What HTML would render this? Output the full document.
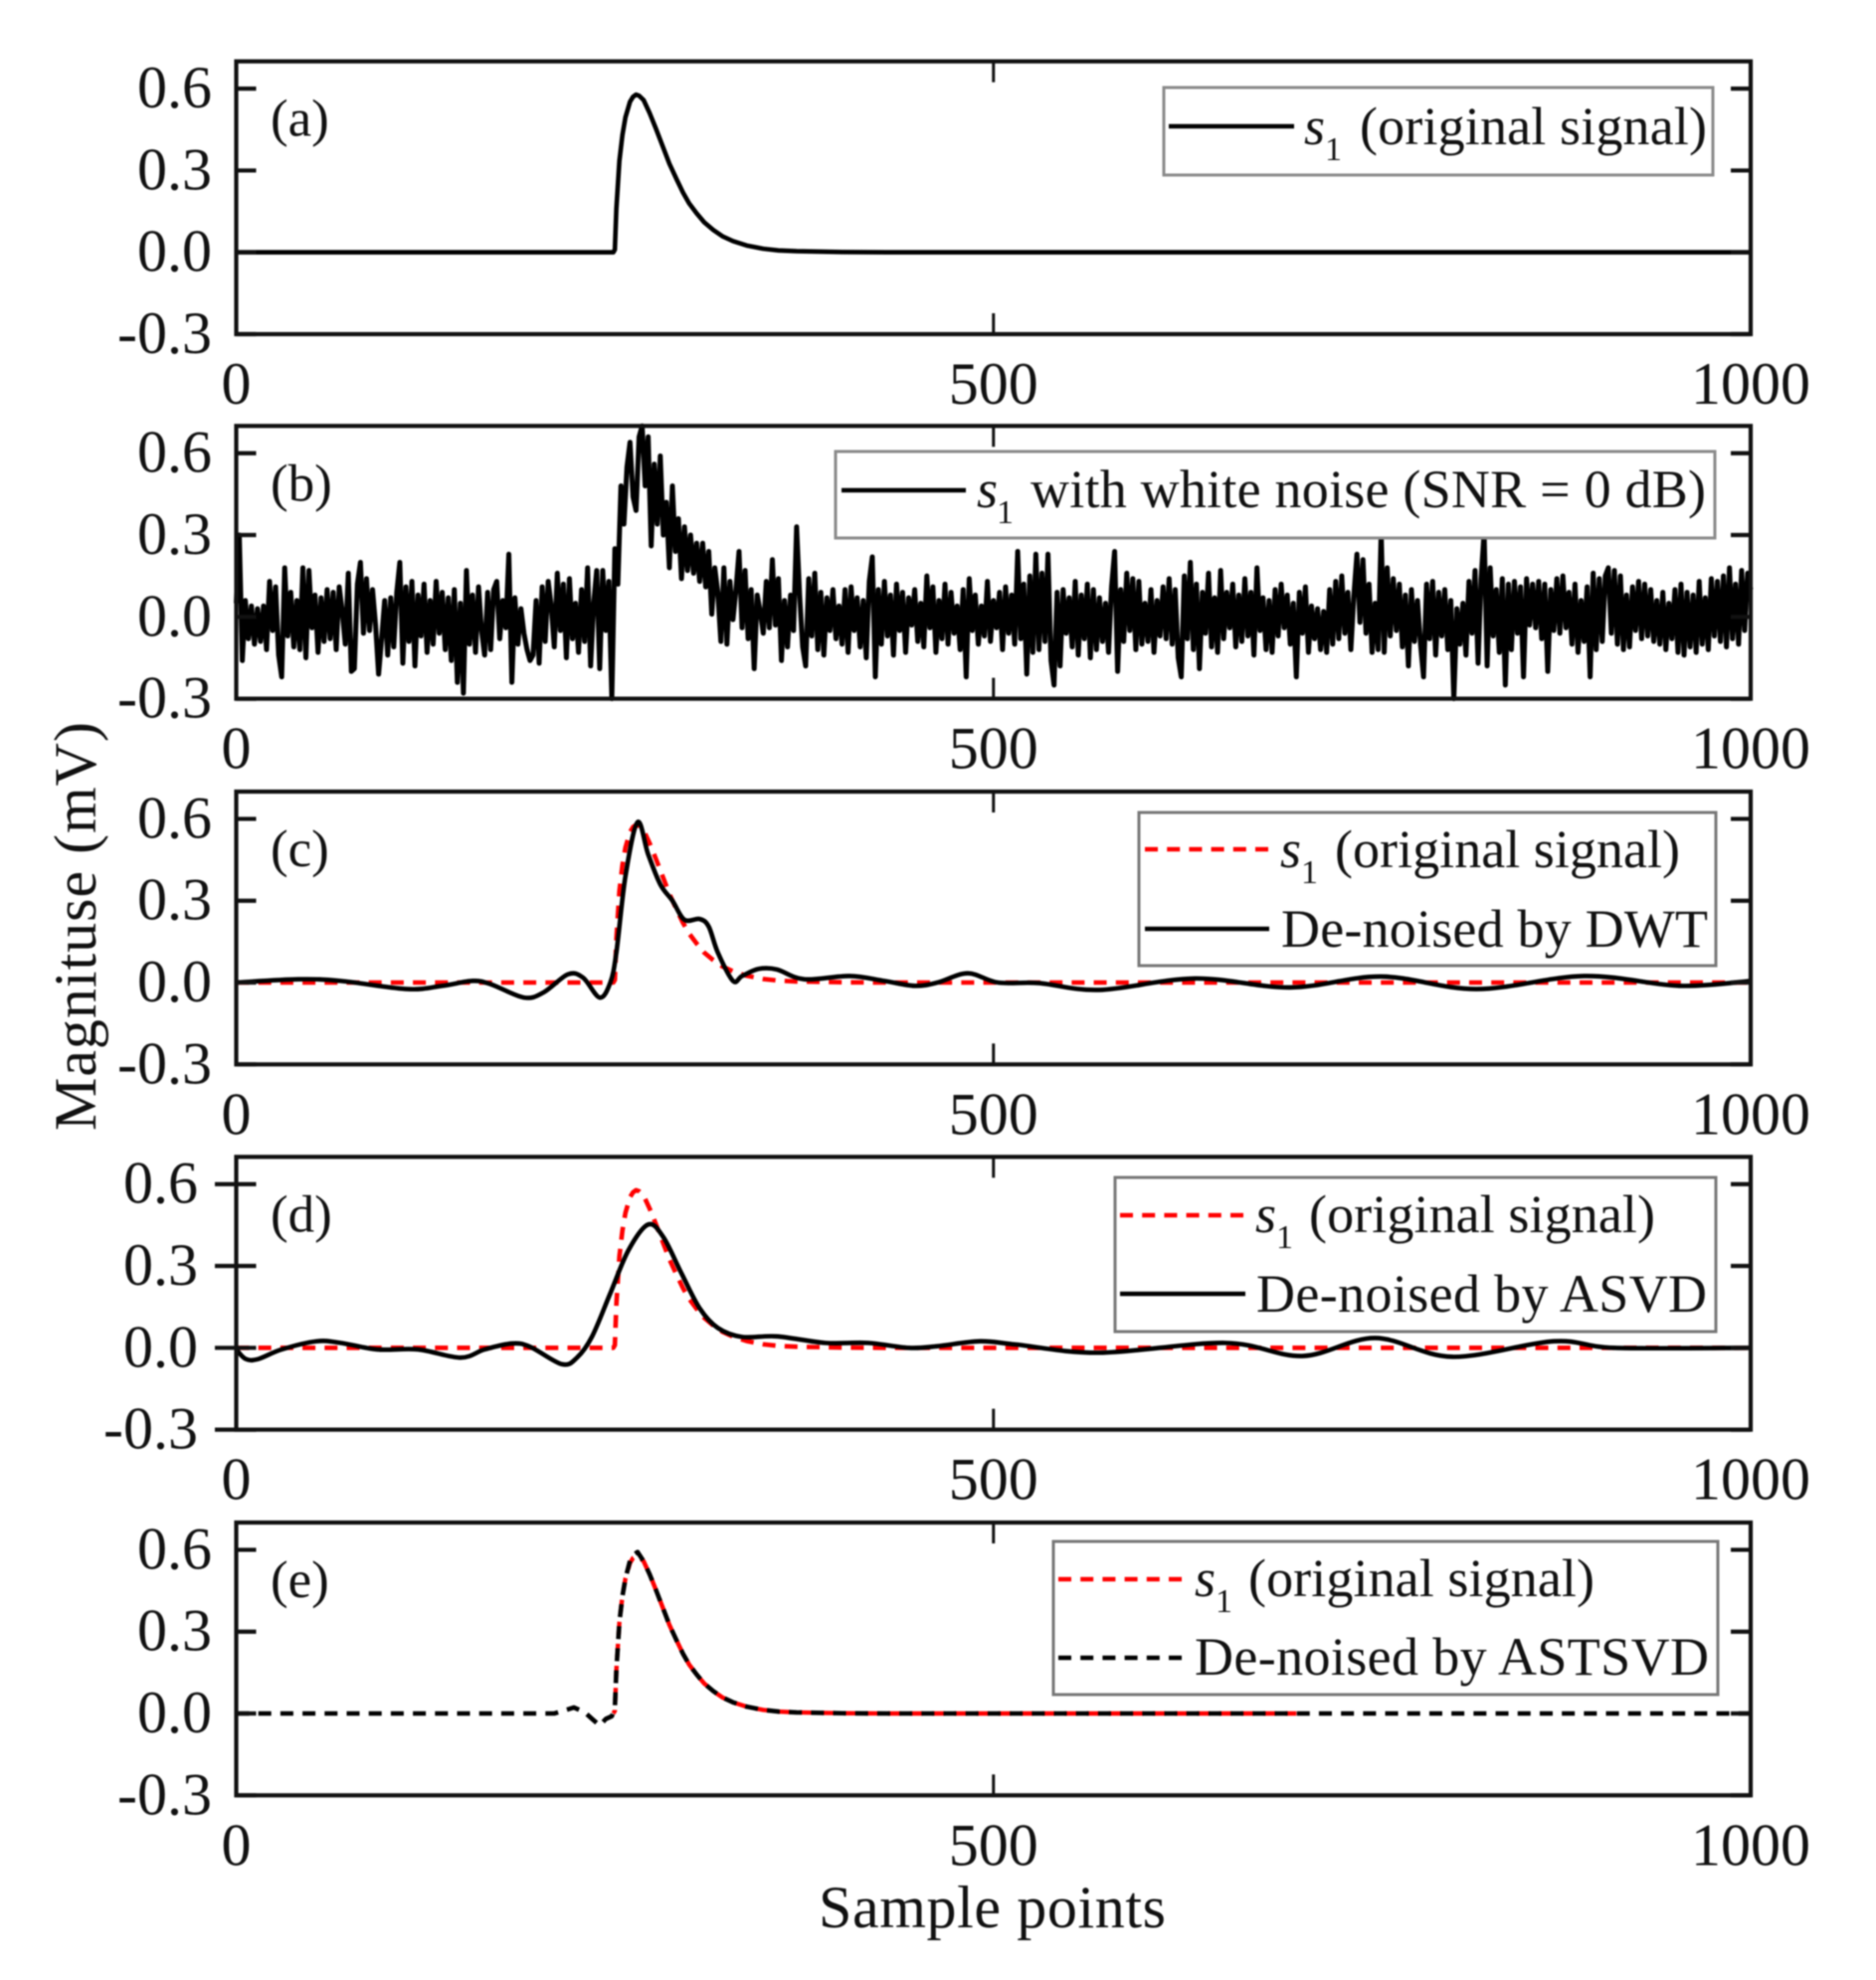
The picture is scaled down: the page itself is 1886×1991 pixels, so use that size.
<!DOCTYPE html>
<html lang="en">
<head>
<meta charset="utf-8">
<title>Signal de-noising comparison</title>
<style>
html,body{margin:0;padding:0;background:#fff;}
svg{display:block;filter:blur(0.8px);}
text{font-family:"Liberation Serif",serif;fill:#111;}
.lg{font-size:54px;}
.sub{font-size:34px;}
.ital{font-style:italic;}
.tag{font-size:53px;}
.tick{font-size:60px;}
.ttl{font-size:60px;}
</style>
</head>
<body>
<svg id="figure" xmlns="http://www.w3.org/2000/svg" width="1886" height="1991" viewBox="0 0 1886 1991">
  <g id="plots"></g>

  <g id="legend-a">
    <rect x="1170" y="88" width="552" height="88" fill="#fff" stroke="#8a8a8a" stroke-width="3"/>
    <line x1="1175" x2="1301" y1="127" y2="127" stroke="#000" stroke-width="4.6"/>
    <text class="lg ital" x="1311" y="145">s</text>
    <text class="sub" x="1332" y="161">1</text>
    <text class="lg" x="1367" y="145" textLength="349">(original signal)</text>
  </g>

  <g id="legend-b">
    <rect x="840" y="454" width="884" height="87" fill="#fff" stroke="#8a8a8a" stroke-width="3"/>
    <line x1="846" x2="971" y1="493" y2="493" stroke="#000" stroke-width="4.6"/>
    <text class="lg ital" x="982" y="510">s</text>
    <text class="sub" x="1002" y="526">1</text>
    <text class="lg" x="1036" y="510" textLength="679">with white noise (SNR = 0 dB)</text>
  </g>

  <g id="legend-c">
    <rect x="1145" y="817" width="580" height="154" fill="#fff" stroke="#777" stroke-width="3"/>
    <line x1="1151" x2="1276" y1="854" y2="854" stroke="#f00" stroke-width="4.6" stroke-dasharray="13 9.2"/>
    <text class="lg ital" x="1287" y="872">s</text>
    <text class="sub" x="1308" y="888">1</text>
    <text class="lg" x="1342" y="872" textLength="347">(original signal)</text>
    <line x1="1151" x2="1276" y1="934" y2="934" stroke="#000" stroke-width="4.6"/>
    <text class="lg" x="1288" y="952" textLength="429">De-noised by DWT</text>
  </g>

  <g id="legend-d">
    <rect x="1121" y="1184" width="604" height="155" fill="#fff" stroke="#777" stroke-width="3"/>
    <line x1="1126" x2="1252" y1="1222" y2="1222" stroke="#f00" stroke-width="4.6" stroke-dasharray="13 9.2"/>
    <text class="lg ital" x="1262" y="1239">s</text>
    <text class="sub" x="1283" y="1255">1</text>
    <text class="lg" x="1316" y="1239" textLength="348">(original signal)</text>
    <line x1="1126" x2="1252" y1="1301" y2="1301" stroke="#000" stroke-width="4.6"/>
    <text class="lg" x="1263" y="1319" textLength="453">De-noised by ASVD</text>
  </g>

  <g id="legend-e">
    <rect x="1059" y="1550" width="668" height="154" fill="#fff" stroke="#777" stroke-width="3"/>
    <line x1="1064" x2="1191" y1="1588" y2="1588" stroke="#f00" stroke-width="4.6" stroke-dasharray="13 9.2"/>
    <text class="lg ital" x="1201" y="1605">s</text>
    <text class="sub" x="1222" y="1621">1</text>
    <text class="lg" x="1255" y="1605" textLength="348">(original signal)</text>
    <line x1="1064" x2="1191" y1="1667" y2="1667" stroke="#000" stroke-width="4.6" stroke-dasharray="13 9.2"/>
    <text class="lg" x="1201" y="1684" textLength="517">De-noised by ASTSVD</text>
  </g>

  <text class="ttl" transform="translate(96,1137) rotate(-90)" textLength="411">Magnituse (mV)</text>
  <text class="ttl" x="823" y="1938" textLength="349">Sample points</text>
</svg>

<script>
// ---- chart data (values in mV, sample indices on x) ----
const xTicks = [0, 500, 1000];
const yTicks = [0.6, 0.3, 0.0, -0.3];
const yTickLabels = ['0.6', '0.3', '0.0', '-0.3'];
const panelTags = ['(a)', '(b)', '(c)', '(d)', '(e)'];

const s1X = [0,249,250,251,253,255,257,260,262,264,266,269,273,277,282,286,291,295,299,304,309,315,321,328,337,348,358,370,400,430,700,1000];
const s1Y = [0,0,0.01,0.16,0.335,0.43,0.495,0.552,0.57,0.578,0.574,0.558,0.51,0.455,0.383,0.325,0.265,0.219,0.18,0.143,0.11,0.082,0.059,0.041,0.025,0.013,0.007,0.004,0.001,0,0,0];

const noiseStep = 2;
const noiseY = [
.05,.30,-.16,.06,-.08,.04,-.10,.03,-.09,.04,
-.12,.13,-.05,.11,-.14,-.22,.18,-.07,.09,-.11,
.06,-.12,.18,-.15,.17,-.04,.08,-.13,.07,-.09,
.10,-.08,.09,-.12,.11,.02,-.10,.16,-.20,-.19,
.12,.20,-.06,.14,-.05,.10,-.03,-.21,-.08,.06,
-.14,.07,-.11,.09,.20,-.17,.11,-.09,.13,-.18,
.08,-.07,.12,-.13,.06,-.10,.13,-.06,.09,-.12,
.07,-.16,.10,-.24,.05,-.28,.17,-.10,.08,-.13,
.11,-.05,-.14,.09,-.12,.10,.13,-.08,.06,-.04,
.23,-.24,.07,-.10,.03,-.06,-.12,-.16,-.14,.06,
-.17,.11,-.09,.13,.04,-.11,.16,-.05,.12,-.15,
.14,-.08,.05,-.13,.10,-.09,.18,-.18,.05,.17,
-.19,.17,-.05,.13,-.30,.25,.12,.48,.34,.55,
.64,.44,.39,.66,.70,.48,.66,.26,.56,.34,
.59,.30,.42,.18,.48,.24,.36,.14,.33,.17,
.30,.16,.27,.13,.27,.11,.24,.01,.18,.09,
-.09,.18,-.10,.13,-.01,.10,.24,-.04,.17,-.08,
.10,-.19,.08,.02,-.06,.13,-.04,.21,-.03,.14,
-.16,.06,-.11,.08,-.05,.33,.08,-.11,-.18,.14,
-.07,.16,-.12,.09,-.14,.07,-.05,.10,-.08,.04,
-.10,.10,-.13,.11,-.05,.07,-.11,.06,-.15,.13,
.22,-.22,.10,-.10,.13,-.07,.08,-.14,.12,-.05,
.09,-.13,.07,-.03,.10,-.09,.05,-.11,.15,-.04,
.11,-.13,.06,-.08,.12,-.10,.09,-.06,.04,-.12,
.10,-.22,.14,-.05,.08,-.10,.04,-.07,.13,-.09,
.06,-.04,.09,-.12,.11,-.06,.08,-.10,.24,-.08,
.12,-.21,.15,-.13,.23,-.12,.16,-.09,.23,-.16,
-.25,.09,-.18,.10,-.06,.07,-.11,.13,-.14,.08,
-.08,.12,-.15,.10,-.12,.07,-.09,.05,-.13,.11,
.24,-.20,.10,-.09,.16,-.05,.14,-.12,.13,-.10,
.05,-.09,.10,-.13,.06,-.07,.11,-.08,.14,-.10,
.10,-.15,-.22,.15,-.08,.20,-.12,.12,-.19,.09,
-.06,.16,-.11,.07,-.13,.17,-.08,.09,-.04,.12,
-.11,.08,-.09,.14,-.07,.09,-.14,.18,-.05,.07,
-.12,.06,-.13,.10,-.07,.12,-.04,.08,-.10,.05,
-.22,.09,-.06,.11,-.13,.04,-.08,.03,-.12,.02,
-.13,.10,-.10,.13,-.08,.15,-.06,.09,-.12,.08,
.23,-.02,.21,-.06,.12,-.13,.05,-.12,.31,-.13,
.18,-.07,.14,-.05,.12,-.11,.08,-.18,.10,-.09,
.06,-.10,-.22,.12,-.08,.13,-.14,.09,-.07,.10,
-.12,.06,-.30,.03,-.10,.05,-.14,.13,-.06,.17,
-.17,.14,.31,-.18,.18,-.07,.10,-.13,.14,-.25,
.12,-.12,.13,-.06,.11,-.22,.14,-.03,.12,-.04,
.13,-.08,.12,-.20,.10,-.05,.14,-.06,.15,-.04,
.09,-.10,.12,-.13,.06,-.09,.11,-.22,.16,-.12,
.14,-.09,.15,.18,-.06,.17,-.10,.15,-.12,.08,
-.11,.11,-.05,.13,-.08,.12,-.07,.10,-.09,.06,
-.10,.09,-.12,.05,-.08,.10,-.13,.12,-.14,.09,
-.11,.08,-.13,.13,-.10,.07,-.12,.14,-.07,.13,
-.09,.15,-.11,.18,-.08,.12,-.10,.17,-.05,.16,
.10];

const dwtX = [0,41,69,113,136,156,168,190,203,219,229,240,247,251,257,265,272,280,288,296,306,312,318,328,334,345,357,375,405,428,448,463,483,503,530,570,633,696,756,819,890,953,1000];
const dwtY = [0,.012,.006,-.024,-.012,.006,-.006,-.055,-.036,.03,.018,-.055,0,.11,.39,.588,.47,.36,.30,.23,.233,.205,.11,.006,.024,.05,.048,.012,.024,.006,-.012,0,.034,0,-.002,-.027,.015,-.018,.022,-.024,.024,-.012,.006];

const asvdX = [0,6,14,30,53,69,93,120,148,164,182,194,215,225,235,247,259,272,282,294,306,318,334,357,389,417,444,463,491,515,570,653,704,752,803,870,910,1000];
const asvdY = [-.006,-.04,-.042,-.006,.024,.018,-.006,-.006,-.036,-.006,.016,.004,-.06,-.036,.042,.2,.358,.452,.406,.273,.145,.073,.04,.042,.018,.018,0,.006,.024,.012,-.018,.018,-.03,.036,-.033,.024,0,0];

const astsvdX = [0,210,223,230,235,240,244,248,250,251,253,255,257,260,262,265,269,273,277,282,286,291,295,299,304,309,315,321,328,337,348,358,370,400,430,1000];
const astsvdY = [0,0,.022,.005,-.02,-.044,-.02,-.01,.02,.16,.335,.43,.495,.56,.58,.592,.558,.51,.455,.383,.325,.265,.219,.18,.143,.11,.082,.059,.041,.025,.013,.007,.004,.001,0,0];

// sample window of the visible red reference trace in panel (e)
const redStartSample = 225;
const redEndSample = 700;

// ---- layout ----
const plotLeft = 237.5, plotRight = 1760, plotHeight = 274.3;
const panelTop = [61.7, 428.3, 796, 1163.3, 1531];
const yMax = 0.7, yMin = -0.3, xMax = 1000;
const NS = 'http://www.w3.org/2000/svg';
const INK = '#111';
const RED = '#f00';
const BLACK = '#000';

function xAxis(v) { return plotLeft + (v / xMax) * (plotRight - plotLeft); }
function yAxis(v, p) { return panelTop[p] + ((yMax - v) / (yMax - yMin)) * plotHeight; }

function pathFrom(xs, ys, p, smooth) {
  const pts = xs.map((x, i) => [xAxis(x), yAxis(ys[i], p)]);
  let d = 'M' + pts[0][0].toFixed(2) + ' ' + pts[0][1].toFixed(2);
  for (let i = 1; i < pts.length; i++) {
    if (!smooth) {
      d += 'L' + pts[i][0].toFixed(2) + ' ' + pts[i][1].toFixed(2);
    } else {
      const a = pts[Math.max(i - 2, 0)], b = pts[i - 1], c = pts[i], e = pts[Math.min(i + 1, pts.length - 1)];
      const c1x = b[0] + (c[0] - a[0]) / 6, c1y = b[1] + (c[1] - a[1]) / 6;
      const c2x = c[0] - (e[0] - b[0]) / 6, c2y = c[1] - (e[1] - b[1]) / 6;
      d += 'C' + c1x.toFixed(2) + ' ' + c1y.toFixed(2) + ' ' + c2x.toFixed(2) + ' ' + c2y.toFixed(2) + ' ' + c[0].toFixed(2) + ' ' + c[1].toFixed(2);
    }
  }
  return d;
}

function addSeries(group, xs, ys, p, color, width, dash, smooth, name, offset) {
  const el = document.createElementNS(NS, 'path');
  
  
  el.setAttribute('d', pathFrom(xs, ys, p, smooth));
  el.setAttribute('fill', 'none');
  el.setAttribute('stroke', color);
  el.setAttribute('stroke-width', width);
  el.setAttribute('stroke-linejoin', 'round');
  if (dash) el.setAttribute('stroke-dasharray', dash);
  if (offset) el.setAttribute('stroke-dashoffset', offset);
  group.appendChild(el);
}

function addTick(group, x1, y1, x2, y2, width, name) {
  const el = document.createElementNS(NS, 'line');
  
  
  el.setAttribute('x1', x1);
  el.setAttribute('y1', y1);
  el.setAttribute('x2', x2);
  el.setAttribute('y2', y2);
  el.setAttribute('stroke', INK);
  el.setAttribute('stroke-width', width);
  group.appendChild(el);
}

function addText(group, x, y, cls, anchor, content, name) {
  const el = document.createElementNS(NS, 'text');
  
  
  el.setAttribute('x', x);
  el.setAttribute('y', y);
  el.setAttribute('class', cls);
  el.setAttribute('text-anchor', anchor);
  el.textContent = content;
  group.appendChild(el);
}

const noiseX = noiseY.map((_, i) => i * noiseStep);
const redEKeep = s1X.map((x, i) => i).filter(i => s1X[i] >= redStartSample && s1X[i] <= redEndSample);
const redEX = redEKeep.map(i => s1X[i]);
const redEY = redEKeep.map(i => s1Y[i]);
const plots = document.getElementById('plots');
const letters = ['a', 'b', 'c', 'd', 'e'];
const DASH = '13 9.2';

panelTop.forEach((top, p) => {
  const id = letters[p];
  const g = document.createElementNS(NS, 'g');
  
  
  plots.appendChild(g);

  if (p === 0) addSeries(g, s1X, s1Y, p, BLACK, 4.6, null, false, 'series-s1-original');
  if (p === 1) addSeries(g, noiseX, noiseY, p, BLACK, 5, null, false, 'series-s1-noisy');
  if (p === 2) {
    addSeries(g, s1X, s1Y, p, RED, 4.6, DASH, false, 'series-s1-reference');
    addSeries(g, dwtX, dwtY, p, BLACK, 4.6, null, true, 'series-dwt');
  }
  if (p === 3) {
    addSeries(g, s1X, s1Y, p, RED, 4.6, DASH, false, 'series-s1-reference');
    addSeries(g, asvdX, asvdY, p, BLACK, 4.6, null, true, 'series-asvd');
  }
  if (p === 4) {
    addSeries(g, redEX, redEY, p, RED, 4.4, DASH, false, 'series-s1-reference', 9);
    addSeries(g, astsvdX, astsvdY, p, BLACK, 4.6, DASH, false, 'series-astsvd');
  }

  const frame = document.createElementNS(NS, 'rect');
  
  
  frame.setAttribute('x', plotLeft);
  frame.setAttribute('y', top);
  frame.setAttribute('width', plotRight - plotLeft);
  frame.setAttribute('height', plotHeight);
  frame.setAttribute('fill', 'none');
  frame.setAttribute('stroke', INK);
  frame.setAttribute('stroke-width', 4.2);
  g.appendChild(frame);

  const bottom = top + plotHeight;
  const leftOut = p === 3 ? 216 : plotLeft;
  const labelRight = p === 3 ? 199 : 213;
  yTicks.forEach((v, i) => {
    const y = yAxis(v, p);
    addTick(g, leftOut, y, plotLeft + 20, y, 4.2, 'y-tick-left-' + id);
    addTick(g, plotRight - 20, y, plotRight, y, 4.2, 'y-tick-right-' + id);
    addText(g, labelRight, y + 19, 'tick', 'end', yTickLabels[i], 'y-tick-label-' + id);
  });
  xTicks.forEach(v => {
    const x = xAxis(v);
    addTick(g, x, top, x, top + 21, 3, 'x-tick-top-' + id);
    addTick(g, x, bottom - 21, x, bottom, 3, 'x-tick-bottom-' + id);
    addText(g, x, bottom + 70, 'tick', 'middle', String(v), 'x-tick-label-' + id);
  });
  addText(g, 272, top + 75, 'tag', 'start', panelTags[p], 'panel-tag-' + id);
});
</script>
</body>
</html>
